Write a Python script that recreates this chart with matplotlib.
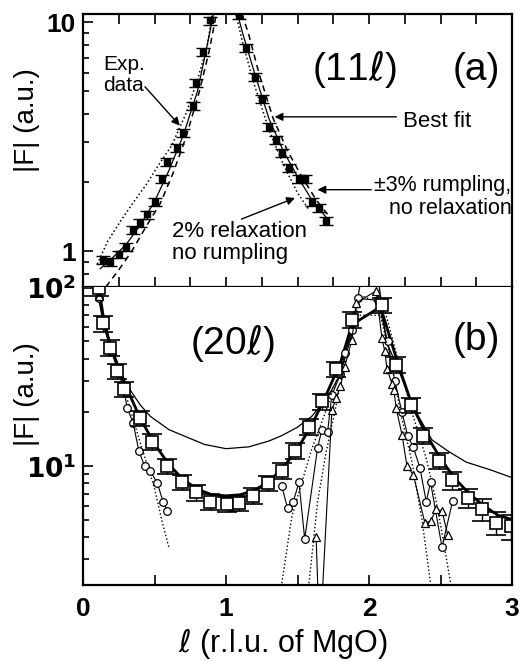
import numpy as np
import matplotlib
matplotlib.use("Agg")
import matplotlib.pyplot as plt

plt.rcParams['font.family'] = ['Liberation Sans', 'DejaVu Sans']
plt.rcParams['mathtext.fontset'] = 'dejavusans'

# ---- panel (a): (11l) rod ----
a_l = [0.14, 0.19, 0.25, 0.30, 0.35, 0.40, 0.45, 0.50, 0.55, 0.59, 0.66, 0.70,
       0.77, 0.79, 0.84, 0.89, 1.09, 1.14, 1.20, 1.25, 1.30, 1.35, 1.39, 1.44,
       1.51, 1.55, 1.60, 1.65, 1.70]
a_val = [0.92, 0.90, 0.97, 1.05, 1.24, 1.33, 1.45, 1.65, 2.08, 2.46, 2.84, 3.30,
         4.32, 5.46, 7.45, 10.2, 10.8, 7.75, 5.79, 4.64, 3.51, 3.08, 2.70, 2.32,
         2.08, 2.08, 1.65, 1.55, 1.36]
a_err = 0.04  # relative

# best fit (solid)
a_fit_l = [0.12, 0.20, 0.30, 0.40, 0.50, 0.60, 0.70, 0.80, 0.86, 0.92,
           1.07, 1.12, 1.20, 1.30, 1.40, 1.50, 1.60, 1.72]
a_fit_v = [0.84, 0.93, 1.07, 1.30, 1.65, 2.25, 3.20, 5.00, 7.50, 11.5,
           11.5, 8.80, 6.00, 3.80, 2.75, 2.12, 1.68, 1.36]
# +-3% rumpling, no relaxation (dashed)
a_rum_l = [0.16, 0.25, 0.34, 0.44, 0.54, 0.63, 0.72, 0.81, 0.88, 0.94,
           1.10, 1.16, 1.23, 1.33, 1.43, 1.53, 1.63, 1.73]
a_rum_v = [0.70, 0.83, 1.00, 1.28, 1.62, 2.20, 3.15, 4.90, 7.40, 11.5,
           11.5, 8.80, 6.00, 3.80, 2.75, 2.12, 1.68, 1.40]
# 2% relaxation, no rumpling (dotted)
a_rel_l = [0.10, 0.17, 0.26, 0.35, 0.44, 0.52, 0.62, 0.72, 0.80, 0.87, 0.91,
           1.06, 1.12, 1.20, 1.30, 1.40, 1.50, 1.58]
a_rel_v = [0.88, 1.10, 1.35, 1.63, 1.95, 2.34, 2.90, 4.00, 5.60, 8.00, 11.5,
           11.5, 8.00, 5.30, 3.40, 2.40, 1.80, 1.52]

# ---- panel (b): (20l) rod ----
b_sq_l = [0.11, 0.14, 0.19, 0.24, 0.29, 0.40, 0.48, 0.59, 0.69, 0.79, 0.89,
          1.01, 1.09, 1.19, 1.29, 1.39, 1.48, 1.58, 1.67, 1.77, 1.88, 2.09,
          2.19, 2.29, 2.38, 2.49, 2.58, 2.69, 2.79, 2.89, 2.99]
b_sq_v = [100, 63, 46, 34, 27, 18.5, 13.7, 10.0, 8.1, 7.1, 6.3,
          6.1, 6.2, 6.8, 8.0, 9.4, 12.2, 16.6, 23, 35, 66, 80,
          37, 22, 14.8, 10.7, 8.3, 6.6, 5.7, 4.8, 4.6]
b_sq_err = [0.10] * 26 + [0.12, 0.12, 0.14, 0.15, 0.16]

b_ci_l1 = [0.11, 0.14, 0.19, 0.24, 0.28, 0.31, 0.35, 0.39, 0.43, 0.47, 0.52, 0.56, 0.59]
b_ci_v1 = [87, 63, 46, 35, 28, 21, 17.5, 12.2, 10.0, 9.4, 8.0, 6.3, 5.6]
b_ci_l2 = [1.39, 1.43, 1.47, 1.51, 1.55, 1.64, 1.67, 1.71, 1.74, 1.80, 1.83, 1.88,
           1.92, 2.06, 2.13, 2.18, 2.23, 2.27, 2.31, 2.355, 2.40, 2.43, 2.51, 2.585]
b_ci_v2 = [7.7, 5.8, 6.3, 8.1, 3.9, 12.6, 16, 15.5, 25, 32.6, 43, 58,
           87, 85, 50, 30, 20, 14.8, 12.7, 9.8, 6.3, 8.1, 3.5, 6.4]

b_tr_l1 = [0.11, 0.20, 0.31]
b_tr_v1 = [90, 44, 26]
b_tr_l2 = [1.63, 1.655, 1.74, 1.77, 1.80, 1.83, 1.88, 1.91, 2.05, 2.09, 2.11,
           2.125, 2.16, 2.174, 2.19, 2.23, 2.265, 2.31, 2.39, 2.43, 2.47, 2.51, 2.55]
b_tr_v2 = [4.0, 1.0, 20.5, 24, 28, 36, 51, 82, 96, 52, 44,
           35, 29, 26.5, 21, 15, 10, 8.9, 4.8, 4.9, 5.7, 5.6, 4.1]

# bulk-like thin curve
b_blk_l = [0.08, 0.15, 0.20, 0.25, 0.30, 0.40, 0.47, 0.60, 0.70, 0.85, 1.00, 1.16,
           1.30, 1.39, 1.50, 1.60, 1.72, 1.80, 1.88, 1.95,
           2.06, 2.12, 2.21, 2.30, 2.44, 2.56, 2.68, 2.85, 3.00]
b_blk_v = [120, 62, 46, 36, 29, 22, 19, 16, 14.8, 13.2, 12.5, 12.8,
           13.8, 14.8, 16.5, 19, 25, 33, 55, 120,
           120, 50, 34, 22, 14, 12, 10.5, 9.5, 8.6]
# best fit thick curve
b_fit_l = [0.08, 0.12, 0.15, 0.20, 0.30, 0.40, 0.50, 0.60, 0.70, 0.80, 0.90, 1.00,
           1.10, 1.20, 1.30, 1.40, 1.50, 1.60, 1.70, 1.80, 1.88, 2.08,
           2.20, 2.30, 2.40, 2.50, 2.60, 2.70, 2.80, 2.90, 3.00]
b_fit_v = [120, 90, 62, 45, 28, 18.5, 13.3, 10.2, 8.4, 7.4, 6.9, 6.8,
           6.9, 7.3, 8.2, 9.8, 12.5, 17, 25, 38, 62, 78,
           38, 22, 15, 11, 8.5, 7.0, 6.0, 5.3, 5.0]
# dotted model curves
b_d1_l = [0.10, 0.20, 0.30, 0.40, 0.50, 0.55, 0.60, np.nan,
          1.39, 1.46, 1.53, 1.60, 1.67, 1.73, 1.80, 1.90, 2.08, 2.15, 2.22, 2.30, 2.37, 2.43]
b_d1_v = [92, 46, 25, 13.5, 7.5, 5.0, 3.5, np.nan,
          2.2, 5.2, 8.1, 12.5, 17.7, 24, 35, 70, 70, 40, 20, 10.5, 5.0, 2.2]
b_d2_l = [1.58, 1.64, 1.70, 1.76, 1.82, 1.88, 1.95, 2.10, 2.20, 2.30, 2.40, 2.47, 2.52, 2.57]
b_d2_v = [2.2, 6.3, 12, 20, 35, 60, 90, 80, 40, 20, 11, 6.3, 3.8, 2.2]

ELL = r'$\ell$'
NOTE = 16


def style_axis(ax):
    for sp in ax.spines.values():
        sp.set_linewidth(1.6)
    ax.tick_params(which='both', direction='in', width=1.2)
    ax.tick_params(which='major', length=7)
    ax.tick_params(which='minor', length=4)
    ax.tick_params(axis='y', labelsize=19, pad=5)
    ax.tick_params(axis='x', labelsize=19, pad=9)
    for lab in ax.get_xticklabels() + ax.get_yticklabels():
        lab.set_fontweight('bold')


def draw_panel_a(ax):
    ax.set_yscale('log')
    ax.plot(a_fit_l, a_fit_v, '-', color='k', lw=0.9)
    ax.plot(a_rum_l, a_rum_v, '--', color='k', lw=1.1, dashes=(4, 3))
    ax.plot(a_rel_l, a_rel_v, ':', color='k', lw=1.1)
    v = np.array(a_val)
    ax.errorbar(a_l, v, yerr=v * a_err, fmt='s', color='k', ms=4.5,
                capsize=5, elinewidth=1.0, capthick=1.0)
    ax.set_xlim(0, 3)
    ax.set_ylim(0.70, 10.9)
    ax.set_xticks(np.arange(0, 3.01, 0.25))
    ax.set_xticklabels([])
    ax.set_yticks([1, 10])
    ax.set_yticklabels(['1', '10'])
    ax.tick_params(axis='x', top=True)
    ax.set_ylabel('|F| (a.u.)', fontsize=20)
    ax.yaxis.set_label_coords(-0.10, 0.61)

    kw = dict(arrowstyle='-|>', color='k', lw=1.0, mutation_scale=12)
    ax.text(0.14, 7.2, 'Exp.\ndata', fontsize=15, ha='left', va='top', linespacing=1.1)
    ax.annotate('', xy=(0.69, 3.47), xytext=(0.42, 5.35), arrowprops=kw)
    ax.text(1.90, 6.2, '(11' + ELL + ')', fontsize=28, ha='center', va='center')
    ax.text(2.75, 6.2, '(a)', fontsize=28, ha='center', va='center')
    ax.text(2.24, 3.68, 'Best fit', fontsize=NOTE, ha='left', va='center')
    ax.annotate('', xy=(1.32, 3.87), xytext=(2.21, 3.87), arrowprops=kw)
    ax.text(2.995, 2.15, '\u00b13% rumpling,\nno relaxation', fontsize=15.5,
            ha='right', va='top', multialignment='right', linespacing=1.1)
    ax.annotate('', xy=(1.62, 1.86), xytext=(2.035, 1.86), arrowprops=kw)
    ax.text(0.62, 1.36, '2% relaxation\nno rumpling', fontsize=NOTE,
            ha='left', va='top', linespacing=1.1)
    ax.annotate('', xy=(1.50, 1.73), xytext=(1.09, 1.37), arrowprops=kw)
    style_axis(ax)


def draw_panel_b(ax):
    ax.set_yscale('log')
    ax.plot(b_blk_l, b_blk_v, '-', color='k', lw=0.9)
    ax.plot(b_fit_l, b_fit_v, '-', color='k', lw=2.0)
    ax.plot(b_d1_l, b_d1_v, ':', color='k', lw=1.0)
    ax.plot(b_d2_l, b_d2_v, ':', color='k', lw=1.0)
    ax.plot(b_ci_l1, b_ci_v1, '-o', color='k', lw=0.8, ms=5.5, mfc='white', mew=0.9)
    ax.plot(b_ci_l2, b_ci_v2, '-o', color='k', lw=0.8, ms=5.5, mfc='white', mew=0.9)
    ax.plot(b_tr_l1, b_tr_v1, '-^', color='k', lw=0.8, ms=6, mfc='white', mew=0.9)
    ax.plot(b_tr_l2, b_tr_v2, '-^', color='k', lw=0.8, ms=6, mfc='white', mew=0.9)
    v = np.array(b_sq_v)
    ax.errorbar(b_sq_l, v, yerr=v * np.array(b_sq_err), fmt='s', color='k',
                ms=8, mfc='white', mew=1.2, capsize=7, elinewidth=1.0, capthick=1.8)
    ax.set_xlim(0, 3)
    ax.set_ylim(2.15, 101)
    ax.set_xticks(np.arange(0, 3.01, 0.5))
    ax.set_xticklabels(['0', '', '1', '', '2', '', '3'])
    ax.set_yticks([10, 100])
    ax.set_yticklabels([r'$\mathbf{10^1}$', r'$\mathbf{10^2}$'])
    ax.spines['top'].set_visible(False)
    ax.set_ylabel('|F| (a.u.)', fontsize=20)
    ax.yaxis.set_label_coords(-0.10, 0.64)
    ax.set_xlabel(ELL + ' (r.l.u. of MgO)', fontsize=22)
    ax.xaxis.set_label_coords(0.466, -0.14)
    ax.text(1.045, 48.9, '(20' + ELL + ')', fontsize=28, ha='center', va='center')
    ax.text(2.75, 50.8, '(b)', fontsize=28, ha='center', va='center')
    style_axis(ax)


def main():
    fig = plt.figure(figsize=(5.22, 6.61), dpi=100)
    ax_a = fig.add_axes([0.159, 0.566, 0.822, 0.413])
    ax_b = fig.add_axes([0.159, 0.115, 0.822, 0.451])
    draw_panel_a(ax_a)
    draw_panel_b(ax_b)
    fig.savefig('out.png', dpi=100)


if __name__ == "__main__":
    main()
